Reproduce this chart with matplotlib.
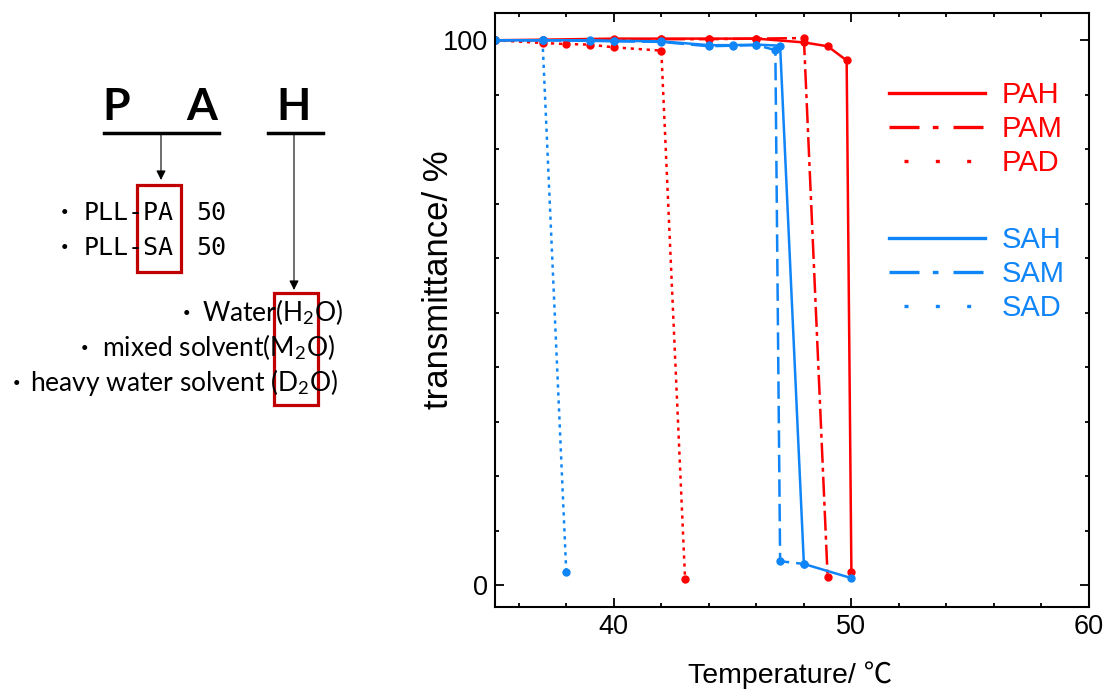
import numpy as np
import matplotlib
matplotlib.use('Agg')
import matplotlib.pyplot as plt
import matplotlib.patches as mpatches
from matplotlib.lines import Line2D
from matplotlib.ticker import MultipleLocator

# transmittance (%) vs temperature (deg C)
pah_t = [35, 37, 40, 42, 44, 46, 48, 49, 49.8, 50]
pah_v = [100, 100.1, 100.3, 100.3, 100.3, 100.3, 99.6, 98.9, 96.3, 2.4]
pam_t = [35, 37, 40, 42, 44, 46, 48, 49]
pam_v = [100, 100, 100.1, 100.2, 100.2, 100.3, 100.4, 1.5]
pad_t = [35, 37, 38, 39, 40, 42, 43]
pad_v = [100, 99.5, 99.3, 99.2, 98.7, 98.1, 1.1]
sah_t = [35, 37, 39, 40, 42, 44, 45, 46, 47, 48, 50]
sah_v = [100, 100, 100, 99.9, 99.8, 99.1, 99.1, 99.2, 99.0, 3.9, 1.3]
sam_t = [35, 37, 39, 40, 42, 44, 45, 46, 46.8, 47, 48]
sam_v = [100, 100, 99.9, 99.8, 99.7, 98.9, 99.0, 99.1, 98.2, 4.4, 3.9]
sad_t = [35, 37, 38]
sad_v = [100, 100, 2.4]

RED = '#FF0000'
BLUE = '#0F85F7'
DARKRED = '#C00000'

plt.rcParams['mathtext.fontset'] = 'custom'
plt.rcParams['mathtext.rm'] = 'Lato'
plt.rcParams['mathtext.it'] = 'Lato:italic'
plt.rcParams['mathtext.bf'] = 'Lato:bold'

W, H = 1107, 693
def px(x, y):
    "pixel position -> figure fraction"
    return x / W, 1 - y / H

fig = plt.figure(figsize=(W / 100, H / 100), dpi=100)
ax = fig.add_axes([495 / W, 1 - 607 / H, (1089 - 495) / W, (607 - 13) / H])

"Plot series"
lw = 1.8
ax.plot(pah_t, pah_v, '-', color=RED, lw=lw, marker='o', ms=5)
ax.plot(pam_t, pam_v, color=RED, lw=lw, ls=(0, (8, 2, 1.6, 2)), marker='o', ms=5)
ax.plot(pad_t, pad_v, color=RED, lw=lw, ls=(0, (1.3, 1.9)), marker='o', ms=5)
ax.plot(sah_t, sah_v, '-', color=BLUE, lw=lw, marker='o', ms=5)
ax.plot(sam_t, sam_v, color=BLUE, lw=lw, ls=(0, (7, 2.8)), marker='o', ms=5)
ax.plot(sad_t, sad_v, color=BLUE, lw=lw, ls=(0, (1.3, 1.9)), marker='o', ms=5)

ax.set_xlim(35, 60)
ax.set_ylim(-4, 105)
ax.xaxis.set_major_locator(MultipleLocator(10))
ax.xaxis.set_minor_locator(MultipleLocator(2))
ax.yaxis.set_major_locator(MultipleLocator(100))
ax.yaxis.set_minor_locator(MultipleLocator(10))
ax.tick_params(which='both', direction='in', top=True, right=True, width=1.3)
ax.tick_params(which='major', length=6.5, labelsize=19.5, pad=5)
ax.tick_params(which='minor', length=3)
for lab in ax.get_xticklabels() + ax.get_yticklabels():
    lab.set_family(['Liberation Sans', 'DejaVu Sans'])
for sp in ax.spines.values():
    sp.set_linewidth(1.5)

lab_font = ['Liberation Sans', 'Noto Sans CJK JP', 'DejaVu Sans']
fig.text(*px(790, 683), 'Temperature/ \u2103', fontsize=20.5, family=lab_font,
         ha='center', va='baseline')
fig.text(*px(439, 280), 'transmittance/ %', fontsize=25, family=lab_font,
         rotation=90, ha='center', va='center')

"Legends"
lw_leg = 2.4
def handle(color, ls):
    return Line2D([], [], color=color, lw=lw_leg, ls=ls)
dd = (0, (9, 4, 1.7, 4.5))
dot = (4.9, (1.2, 8.2))
leg_kw = dict(frameon=False, handlelength=3.3, handletextpad=0.55,
              labelspacing=0.21, borderpad=0, borderaxespad=0, loc='center left',
              bbox_transform=fig.transFigure,
              prop={'family': 'Liberation Sans', 'size': 21})
leg1 = ax.legend([handle(RED, '-'), handle(RED, dd), handle(RED, dot)],
                 ['PAH', 'PAM', 'PAD'], labelcolor=RED,
                 bbox_to_anchor=px(889, 129), **leg_kw)
ax.add_artist(leg1)
ax.legend([handle(BLUE, '-'), handle(BLUE, dd), handle(BLUE, dot)],
          ['SAH', 'SAM', 'SAD'], labelcolor=BLUE,
          bbox_to_anchor=px(889, 274), **leg_kw)

"Left-hand naming diagram"
big = dict(fontsize=32, fontweight='bold', family='Lato', ha='center', va='baseline')
fig.text(*px(116, 120), 'P', **big)
fig.text(*px(202, 120), 'A', **big)
fig.text(*px(294, 120), 'H', **big)
for x0, x1 in [(104, 219), (268, 323)]:
    fig.add_artist(Line2D([x0 / W, x1 / W], [1 - 133 / H] * 2, color='k', lw=2.5,
                          transform=fig.transFigure))
for x, y0, y1 in [(161, 134, 180), (294, 134, 290)]:
    fig.add_artist(mpatches.FancyArrowPatch(px(x, y0), px(x, y1), transform=fig.transFigure,
                                            arrowstyle='-|>', mutation_scale=14, lw=0.8,
                                            color='k', shrinkA=0, shrinkB=0))
for x0, y0, x1, y1 in [(137, 185, 181, 272), (274, 293, 318, 405)]:
    fig.add_artist(mpatches.Rectangle(px(x0, y1), (x1 - x0) / W, (y1 - y0) / H,
                                      fill=False, ec=DARKRED, lw=2.3,
                                      transform=fig.transFigure))

bullet = dict(fontsize=17, family=['Noto Sans CJK JP', 'DejaVu Sans'], ha='center', va='baseline')
mono = dict(fontsize=18, family='DejaVu Sans Mono', va='baseline')
for name, yb in [('PLL-PA', 220), ('PLL-SA', 255)]:
    fig.text(*px(64, yb), '\u30fb', **bullet)
    fig.text(*px(84, yb), name, **mono)
    fig.text(*px(196, yb), '50', **mono)

sol = dict(fontsize=19, family='Lato', va='baseline')
for label, xb, xt, yb in [('Water(H$_2$O)', 187, 202, 321),
                          ('mixed solvent(M$_2$O)', 85, 102, 356),
                          ('heavy water solvent (D$_2$O)', 16, 30, 391)]:
    fig.text(*px(xb, yb), '\u30fb', **bullet)
    fig.text(*px(xt, yb), label, **sol)

plt.savefig('out.png', dpi=100)
